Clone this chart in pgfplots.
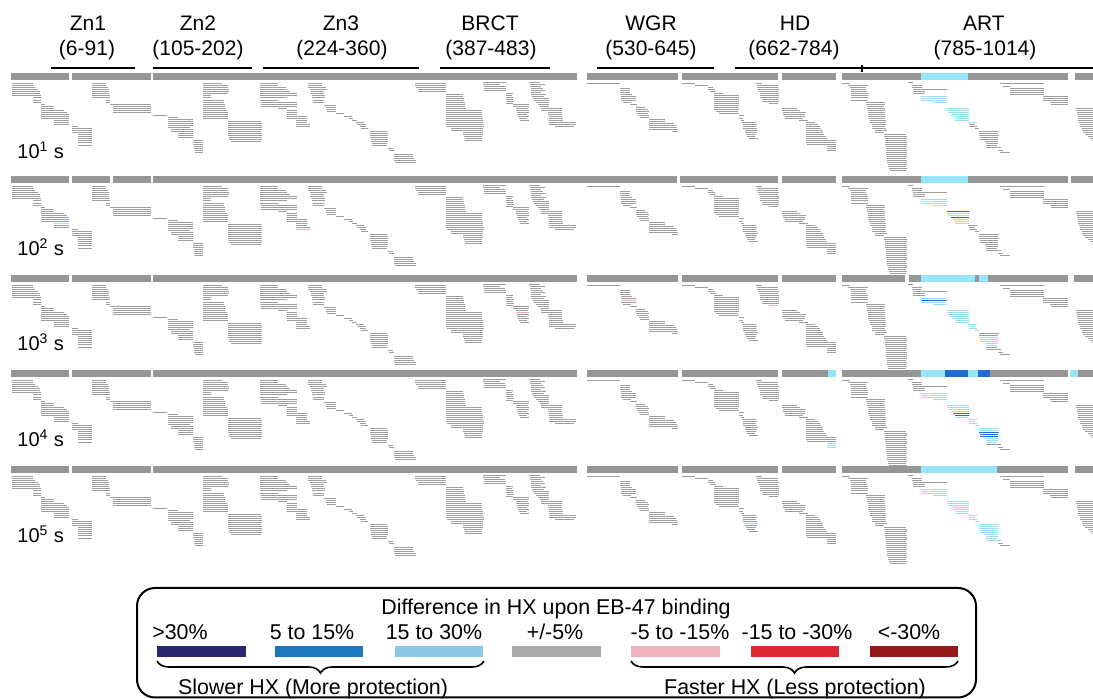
\documentclass[border=0pt]{standalone}
\usepackage{fontspec}
\setmainfont{Liberation Sans}
\usepackage{pgfplots}
\pgfplotsset{compat=1.18}
\usepackage{pgfplotstable}
\usetikzlibrary{decorations.pathreplacing}
\definecolor{barg}{RGB}{150,150,150}
\definecolor{pepg}{RGB}{158,158,158}
\definecolor{cybar}{RGB}{150,230,250}
\definecolor{cypep}{RGB}{155,222,245}
\definecolor{blpep}{RGB}{30,110,210}
\definecolor{pkpep}{RGB}{240,170,180}
\definecolor{lgA}{RGB}{40,40,110}
\definecolor{lgB}{RGB}{30,120,190}
\definecolor{lgC}{RGB}{140,200,225}
\definecolor{lgD}{RGB}{172,172,172}
\definecolor{lgE}{RGB}{240,180,190}
\definecolor{lgF}{RGB}{220,40,50}
\definecolor{lgG}{RGB}{150,25,25}

% peptides of the first time point (x from, x to, y); other rows shifted
\pgfplotstableread{
a b y
12 33 83
12 33 85
12 35 87
12 38 89
12 40 91
12 40 93
12 41 95
33 41 97
33 41 100
33 41 102
41 45 104
41 54 106
41 54 108
41 64 110
41 67 112
41 69 114
41 69 116
41 69 118
54 69 120
54 69 122
54 69 124
72 78 126
72 92 128
72 92 130
72 92 132
78 92 134
78 92 136
78 92 138
78 92 140
78 92 142
78 92 145
92 106 83
92 106 85
92 108 87
92 109 89
92 109 91
92 109 93
92 110 95
92 110 97
106 110 100
106 110 102
110 151 104
113 151 106
113 151 108
113 151 110
113 151 112
153 167 115
168 178 117
168 193 119
168 193 121
168 193 123
168 193 125
168 190 127
171 193 129
171 193 131
178 193 133
178 193 135
178 193 137
193 203 140
193 203 142
193 203 144
194 203 146
194 203 148
194 203 150
195 203 152
203 222 83
203 228 85
203 228 87
203 229 89
203 229 91
203 228 93
203 211 95
203 211 97
203 224 100
203 224 102
203 225 104
203 225 106
203 225 108
203 227 110
203 228 112
203 228 114
203 228 116
203 228 118
228 261 121
228 262 123
228 262 125
228 262 127
228 262 129
228 261 131
228 262 133
228 262 135
229 262 137
229 262 139
231 261 141
260 278 83
260 278 85
260 286 87
260 287 89
260 290 91
260 297 93
260 297 95
260 287 97
260 278 100
261 297 102
261 297 104
261 297 106
278 287 108
287 297 110
287 297 112
287 297 114
287 307 116
287 307 118
296 307 120
296 307 122
296 310 124
296 310 126
308 322 83
308 322 85
308 326 87
310 327 89
311 324 91
311 324 93
312 325 95
312 325 97
313 324 100
313 324 102
324 336 105
326 336 107
326 336 109
327 336 111
336 344 113
344 352 116
349 353 118
352 357 120
356 364 122
357 366 124
360 366 126
361 368 128
370 387 131
370 388 133
370 388 135
370 388 137
371 388 139
371 388 141
372 387 143
372 387 145
388 393 148
389 394 150
394 413 154
394 413 156
394 414 158
394 416 160
395 416 162
415 446 83
415 446 85
416 446 87
418 446 89
418 446 91
446 463 94
446 463 96
446 464 98
446 464 100
446 465 102
446 465 104
446 465 106
446 466 108
446 482 110
446 482 112
446 482 114
446 482 116
446 483 118
446 483 120
446 483 122
446 484 124
447 484 126
451 483 128
451 483 130
463 483 132
463 483 134
464 482 136
465 482 138
465 482 140
483 506 82
483 500 84
484 505 86
484 506 88
484 506 90
506 513 93
506 512 95
506 513 97
506 513 99
507 514 101
506 513 103
513 529 104
513 529 106
516 528 108
516 529 110
517 529 112
517 527 114
518 529 116
519 527 118
520 529 120
529 540 82
530 545 84
530 541 86
531 543 88
531 545 90
531 541 92
531 546 94
532 544 96
533 549 98
534 549 100
536 549 102
538 549 104
540 549 106
541 562 108
541 562 110
548 562 112
548 562 114
549 562 116
549 563 118
549 563 120
549 576 122
549 576 124
555 574 126
587 620 83
620 630 88
620 630 90
620 630 92
621 632 94
621 636 96
621 636 98
621 636 100
623 631 102
630 637 104
636 645 107
636 648 109
636 649 111
637 648 113
639 649 115
640 649 117
649 665 119
649 665 121
649 674 123
649 676 125
649 677 127
649 678 129
672 678 131
682 695 83
695 708 85
708 713 87
708 715 89
710 716 91
714 723 93
714 739 95
714 739 97
714 739 99
714 739 101
714 739 103
714 739 105
714 739 107
714 739 109
716 738 111
719 739 113
739 744 115
739 743 118
741 744 120
742 756 122
743 757 124
743 756 126
743 757 128
745 758 130
745 757 132
746 756 134
747 755 136
749 758 138
756 762 83
757 778 85
757 778 87
758 779 89
759 778 91
760 779 93
760 779 95
760 779 97
762 779 99
762 779 101
769 778 103
782 797 108
782 800 110
783 806 112
783 805 114
785 805 116
785 803 118
799 808 120
806 815 122
806 818 124
806 820 126
806 821 128
806 823 130
806 823 132
806 824 134
806 826 136
806 827 138
806 836 140
806 836 142
807 836 144
827 836 146
827 836 148
827 836 150
842 850 83
848 868 85
850 866 87
851 866 89
851 867 91
851 868 93
851 868 95
851 868 97
851 868 100
866 885 102
866 885 104
867 884 106
867 885 108
868 885 110
868 885 112
868 885 114
868 886 116
869 885 118
870 886 120
870 886 122
872 886 124
872 885 126
872 886 128
875 887 130
875 884 132
884 906 134
884 907 136
885 907 138
885 906 140
885 907 142
885 907 144
886 907 146
886 906 148
886 907 150
886 907 152
886 907 154
887 907 156
887 906 158
887 907 160
887 907 162
888 907 164
888 906 166
889 907 168
890 906 170
908 913 82
912 922 85
912 922 87
913 947 89
913 925 91
913 925 93
921 947 96
921 947 98
921 946 100
933 947 102
947 969 108
947 969 110
948 969 112
951 969 114
953 969 116
955 969 118
955 969 120
968 977 122
969 975 124
969 977 126
975 979 128
979 999 131
979 998 133
979 999 135
980 998 137
980 998 139
985 998 141
986 998 143
986 997 145
986 1001 147
998 1003 150
1000 1010 152
1000 1044 83
1003 1010 86
1010 1044 88
1010 1044 90
1010 1044 92
1010 1044 94
1043 1068 96
1043 1068 98
1043 1068 100
1050 1068 102
1051 1068 104
1076 1093 108
1076 1093 110
1077 1093 112
1077 1093 114
1078 1093 116
1078 1093 118
1078 1093 120
1079 1093 122
1080 1093 124
1080 1093 126
1082 1093 128
1082 1093 130
1083 1093 132
1085 1093 134
1088 1093 136
1090 1093 138
1092 1093 140
}\pep

\pgfplotstableread{
a b y
921 947 96
921 947 98
921 946 100
933 947 102
947 969 108
947 969 110
948 969 112
951 969 114
953 969 116
955 969 118
955 969 120
968 977 122
921 947 199
921 947 201
921 946 203
933 947 205
947 969 213
948 969 215
953 969 219
955 969 221
955 969 223
54 69 223
921 947 298
921 946 302
933 947 304
947 969 310
947 969 312
948 969 314
951 969 316
953 969 318
955 969 320
955 969 322
968 977 324
969 975 326
969 977 328
975 979 330
979 999 337
980 998 339
980 998 341
985 998 343
986 998 345
921 947 393
921 947 395
921 946 397
933 947 399
947 969 405
947 969 407
948 969 409
951 969 411
955 969 417
968 977 419
969 975 421
969 977 423
975 979 425
979 999 428
979 998 430
985 998 438
986 998 440
986 997 442
827 836 443
827 836 445
827 836 447
921 947 489
921 947 491
921 946 493
933 947 495
947 969 501
947 969 503
948 969 505
951 969 507
953 969 509
955 969 511
955 969 513
968 977 515
969 975 517
969 977 519
975 979 521
979 999 524
979 998 526
979 999 528
980 998 530
980 998 532
985 998 534
986 998 536
986 997 538
986 1001 540
745 758 523
}\cypeps

\pgfplotstableread{
a b y
947 969 211
951 969 217
921 947 300
953 969 413
955 969 415
979 999 432
980 998 434
980 998 436
}\blpeps

\pgfplotstableread{
a b y
296 310 229
769 778 305
621 636 300
516 529 312
}\pkpeps

\pgfplotstableread{
a b y
11 69 76
72 151 76
153 577 76
587 678 76
682 778 76
782 836 76
842 1068 76
1075 1093 76
11 69 179
72 110 179
113 151 179
153 677 179
680 778 179
782 836 179
842 1068 179
1071 1093 179
11 69 278
72 151 278
153 577 278
587 678 278
682 778 278
782 836 278
842 905 278
909 1068 278
1074 1093 278
11 69 373
72 151 373
153 577 373
587 678 373
682 778 373
782 836 373
842 1068 373
1070 1093 373
11 69 469
72 151 469
153 577 469
587 678 469
682 778 469
782 836 469
842 1068 469
1075 1093 469
}\bars

\pgfplotstableread{
a b y
921 968 76
921 968 179
921 975 278
979 988 278
828 836 373
921 945 373
968 978 373
1070 1078 373
921 997 469
}\cybars

\pgfplotstableread{
a b y
945 968 373
978 990 373
}\blbars

\begin{document}
\begin{tikzpicture}
\begin{axis}[x=0.5pt, y=0.5pt, xmin=0, xmax=1093, ymin=0, ymax=699,
  y dir=reverse, hide axis, clip=false,
  pep/.style={line width=0.6pt, quiver={u=\thisrow{b}-\thisrow{a}, v=0}},
  bar/.style={line width=3.5pt, quiver={u=\thisrow{b}-\thisrow{a}, v=0}}]
% gray peptides, five time points
\addplot[pepg, pep] table[x=a, y expr=\thisrow{y}+0.5] {\pep};
\addplot[pepg, pep] table[x=a, y expr=\thisrow{y}+103.5] {\pep};
\addplot[pepg, pep] table[x=a, y expr=\thisrow{y}+202.5] {\pep};
\addplot[pepg, pep] table[x=a, y expr=\thisrow{y}+297.5] {\pep};
\addplot[pepg, pep] table[x=a, y expr=\thisrow{y}+393.5] {\pep};
% coloured peptides
\addplot[cypep, pep] table[x=a, y expr=\thisrow{y}+0.5] {\cypeps};
\addplot[blpep, pep] table[x=a, y expr=\thisrow{y}+0.5] {\blpeps};
\addplot[pkpep, pep] table[x=a, y expr=\thisrow{y}+0.5] {\pkpeps};
% sequence bars
\addplot[barg, bar] table[x=a, y expr=\thisrow{y}+0.5] {\bars};
\addplot[cybar, bar] table[x=a, y expr=\thisrow{y}+0.5] {\cybars};
\addplot[blpep, bar] table[x=a, y expr=\thisrow{y}+0.5] {\blbars};

% domain headers
\begin{scope}[font=\fontsize{10.5}{12}\selectfont]
\node[anchor=base] at (axis cs:88,31) {Zn1};
\node[anchor=base] at (axis cs:87,56) {(6-91)};
\node[anchor=base] at (axis cs:198,31) {Zn2};
\node[anchor=base] at (axis cs:198,56) {(105-202)};
\node[anchor=base] at (axis cs:341,31) {Zn3};
\node[anchor=base] at (axis cs:342,56) {(224-360)};
\node[anchor=base] at (axis cs:490,31) {BRCT};
\node[anchor=base] at (axis cs:491,56) {(387-483)};
\node[anchor=base] at (axis cs:651,31) {WGR};
\node[anchor=base] at (axis cs:651,56) {(530-645)};
\node[anchor=base] at (axis cs:795,31) {HD};
\node[anchor=base] at (axis cs:794,56) {(662-784)};
\node[anchor=base] at (axis cs:984,31) {ART};
\node[anchor=base] at (axis cs:985,56) {(785-1014)};
\end{scope}
\draw[line width=0.7pt] (axis cs:51,68) -- (axis cs:135,68);
\draw[line width=0.7pt] (axis cs:153,68) -- (axis cs:252,68);
\draw[line width=0.7pt] (axis cs:263,68) -- (axis cs:419,68);
\draw[line width=0.7pt] (axis cs:440,68) -- (axis cs:550,68);
\draw[line width=0.7pt] (axis cs:597,68) -- (axis cs:714,68);
\draw[line width=0.7pt] (axis cs:735,68) -- (axis cs:1093,68);
\draw[line width=0.6pt] (axis cs:862,65) -- (axis cs:862,72);

% time labels
\begin{scope}[font=\fontsize{10}{12}\selectfont]
\node[anchor=base west, inner sep=0pt] at (axis cs:17,159) {10\textsuperscript{1} s};
\node[anchor=base west, inner sep=0pt] at (axis cs:17,256) {10\textsuperscript{2} s};
\node[anchor=base west, inner sep=0pt] at (axis cs:17,351) {10\textsuperscript{3} s};
\node[anchor=base west, inner sep=0pt] at (axis cs:17,447) {10\textsuperscript{4} s};
\node[anchor=base west, inner sep=0pt] at (axis cs:17,543) {10\textsuperscript{5} s};
\end{scope}

% legend
\draw[line width=1pt, rounded corners=9pt] (axis cs:137,588) rectangle (axis cs:976,697.5);
\begin{scope}[font=\fontsize{10.7}{12}\selectfont]
\node at (axis cs:556,609) {Difference in HX upon EB-47 binding};
\node at (axis cs:180,632) {>30\%};
\node at (axis cs:312,632) {5 to 15\%};
\node at (axis cs:434,632) {15 to 30\%};
\node at (axis cs:555,632) {+/-5\%};
\node at (axis cs:680,632) {-5 to -15\%};
\node at (axis cs:797,632) {-15 to -30\%};
\node at (axis cs:909,632) {<-30\%};
\node at (axis cs:313,689) {Slower HX (More protection)};
\node at (axis cs:795,689) {Faster HX (Less protection)};
\end{scope}
\fill[lgA] (axis cs:157,646) rectangle (axis cs:246,657);
\fill[lgB] (axis cs:275,646) rectangle (axis cs:363,657);
\fill[lgC] (axis cs:395,646) rectangle (axis cs:483,657);
\fill[lgD] (axis cs:512,646) rectangle (axis cs:601,657);
\fill[lgE] (axis cs:631,646) rectangle (axis cs:720,657);
\fill[lgF] (axis cs:751,646) rectangle (axis cs:839,657);
\fill[lgG] (axis cs:870,646) rectangle (axis cs:958,657);
\draw[line width=0.8pt, decorate, decoration={brace, mirror, amplitude=6pt}] (axis cs:157,661) -- (axis cs:484,661);
\draw[line width=0.8pt, decorate, decoration={brace, mirror, amplitude=6pt}] (axis cs:631,661) -- (axis cs:958,661);
\end{axis}
\pgfresetboundingbox
\path (current axis.south west) rectangle (current axis.north east);
\end{tikzpicture}
\end{document}
